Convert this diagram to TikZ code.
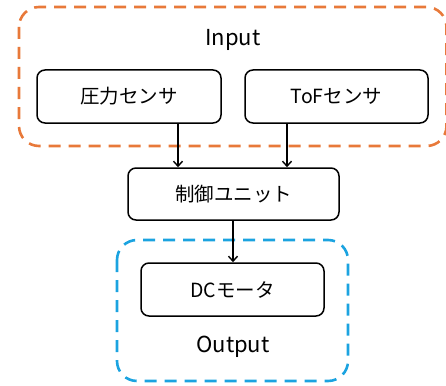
\documentclass[tikz,border=0pt]{standalone}
\usepackage{fontspec}
\setmainfont{Noto Sans CJK JP}
\usetikzlibrary{arrows.meta}
\definecolor{inorange}{HTML}{E8793A}
\definecolor{outblue}{HTML}{1BA3E0}
\tikzset{
  blockbox/.style={draw=black, line width=1.5pt, rounded corners=8pt, minimum height=53pt, align=center, font=\fontsize{19.5}{22}\selectfont, inner sep=0pt},
  groupbox/.style={line width=2.6pt, dash pattern=on 12pt off 8pt, rounded corners=20pt},
  flow/.style={-{Straight Barb[length=5pt,width=9pt]}, line width=1.4pt},
  grouplabel/.style={font=\fontsize{22}{26}\selectfont, inner sep=0pt}
}
\begin{document}
\begin{tikzpicture}[x=1pt,y=-1pt]
\useasboundingbox (0,0) rectangle (446,385);
\draw[groupbox, draw=inorange] (19,7) rectangle (446.5,146);
\draw[groupbox, draw=outblue] (117,240) rectangle (348,381);
\node[grouplabel] (inlabel) at (233,39.5) {Input};
\node[grouplabel] (outlabel) at (233,346.5) {Output};
\node[blockbox, minimum width=184pt] (press) at (129,96.5) {圧力センサ};
\node[blockbox, minimum width=183pt] (tof) at (336.5,96.5) {ToFセンサ};
\node[blockbox, minimum width=211pt, minimum height=52pt] (ctrl) at (233.5,194) {制御ユニット};
\node[blockbox, minimum width=183pt] (dc) at (232.5,289.5) {DCモータ};
\draw[flow] (press.south -| 178,0) -- (ctrl.north -| 178,0);
\draw[flow] (tof.south -| 287,0) -- (ctrl.north -| 287,0);
\draw[flow] (ctrl.south -| 233,0) -- (dc.north -| 233,0);
\end{tikzpicture}
\end{document}
